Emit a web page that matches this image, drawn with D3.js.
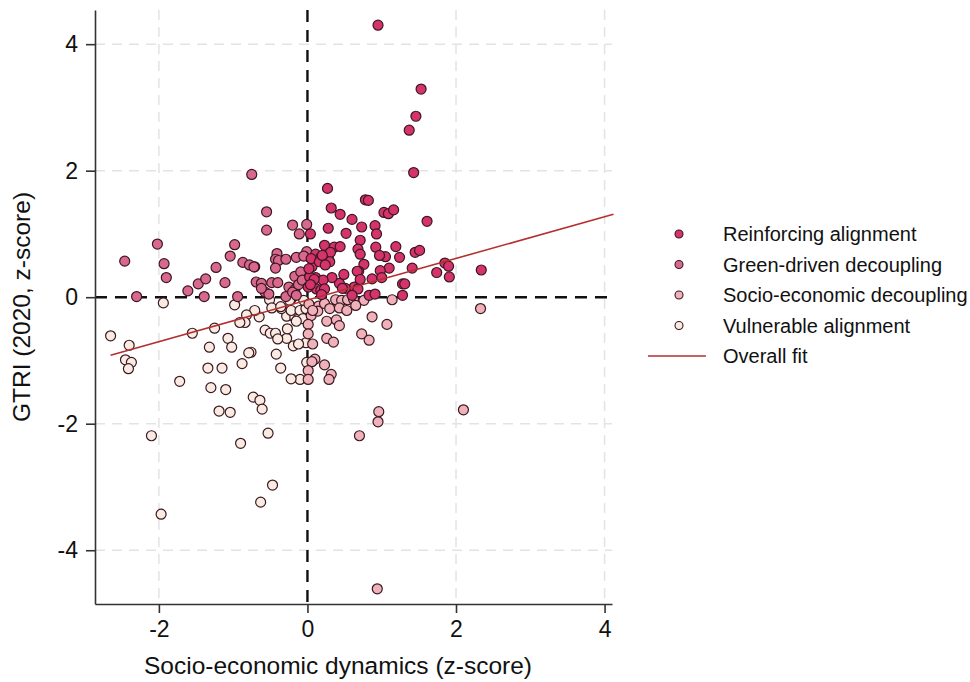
<!DOCTYPE html>
<html>
<head>
<meta charset="utf-8">
<script src="https://cdn.jsdelivr.net/npm/d3@7"></script>
<style>
  body { margin: 0; background: #fff; }
  svg { font-family: "Liberation Sans", Arial, sans-serif; }
</style>
</head>
<body>
<div id="chart"></div>
<script>
// quadrant groups, [x, y] in z-scores
var reinforcing = [[0.95,4.30],[1.53,3.29],[1.46,2.86],[1.37,2.64],[1.43,1.97],[0.27,1.72],[0.78,1.54],[0.82,1.53],
  [0.32,1.41],[0.44,1.31],[0.60,1.23],[1.03,1.34],[1.09,1.32],[1.16,1.38],[1.61,1.20],[0.73,1.11],[0.91,1.13],
  [0.28,1.09],[0.52,1.01],[0.93,1.00],[0.71,0.90],[0.04,1.00],[0.23,0.82],[0.36,0.79],[0.44,0.80],[0.68,0.76],
  [0.71,0.68],[0.92,0.79],[1.19,0.80],[1.45,0.71],[1.51,0.74],[1.05,0.64],[1.24,0.63],[0.11,0.68],[0.18,0.63],
  [0.28,0.62],[0.31,0.71],[0.06,0.48],[0.22,0.60],[0.30,0.56],[0.76,0.52],[0.69,0.41],[1.10,0.46],[0.98,0.42],
  [1.41,0.46],[1.74,0.39],[1.85,0.54],[1.90,0.49],[1.91,0.32],[2.34,0.43],[1.28,0.21],[1.31,0.21],[1.28,0.03],
  [0.87,0.29],[1.00,0.31],[0.83,0.03],[0.91,0.05],[0.63,0.16],[0.68,0.13],[0.43,0.22],[0.51,0.14],[0.33,0.31],
  [0.11,0.31],[0.21,0.27],[0.12,0.13],[0.18,0.11],[0.03,0.32],[0.05,0.61],[0.16,0.56],[0.20,0.66],[0.24,0.51],
  [0.09,0.28],[0.49,0.36],[0.67,0.41],[0.71,0.28],[0.97,0.66],[0.01,0.16],[0.23,0.13],[0.19,0.04],[0.47,0.14],
  [0.60,0.03],[0.02,0.45],[0.04,0.20]];

var greenDriven = [[-0.75,1.94],[-0.55,1.35],[-0.20,1.14],[-0.01,1.15],[-0.55,1.06],[-0.11,1.00],[-0.01,0.72],
  [-0.41,0.69],[-0.43,0.60],[-0.39,0.58],[-0.29,0.60],[-0.15,0.63],[-0.05,0.65],[-0.43,0.46],[-0.71,0.48],
  [-0.17,0.33],[-0.09,0.40],[-0.25,0.16],[-0.17,0.12],[-0.29,0.01],[-0.69,0.24],[-0.62,0.22],[-0.48,0.23],
  [-0.40,0.23],[-0.57,0.08],[-0.52,0.05],[-2.02,0.84],[-2.46,0.57],[-1.93,0.53],[-1.90,0.31],[-2.30,0.01],
  [-1.61,0.10],[-1.47,0.21],[-1.37,0.29],[-1.23,0.47],[-1.39,0.01],[-1.11,0.23],[-1.04,0.65],[-0.98,0.83],
  [-0.87,0.55],[-0.78,0.51],[-0.72,0.48],[-0.94,0.01],[-0.62,0.14],[-0.20,0.08],[-0.15,0.03],[-0.12,0.20],
  [-0.07,0.27]];

var socioDecoupling = [[2.33,-0.18],[1.14,-0.04],[1.07,-0.43],[0.87,-0.31],[0.73,-0.58],[0.83,-0.68],[0.38,-0.04],
  [0.46,-0.05],[0.54,-0.04],[0.62,-0.03],[0.76,-0.05],[0.15,-0.14],[0.23,-0.10],[0.30,-0.18],[0.43,-0.17],
  [0.53,-0.21],[0.65,-0.13],[0.05,-0.29],[0.01,-0.43],[0.26,-0.38],[0.39,-0.36],[0.43,-0.45],[0.26,-0.65],
  [0.35,-0.71],[0.07,-0.74],[0.10,-0.98],[0.06,-1.02],[0.23,-1.07],[0.01,-1.16],[0.32,-1.22],[0.29,-1.30],
  [0.01,-1.30],[0.96,-1.81],[0.95,-1.97],[0.70,-2.19],[2.10,-1.78],[0.94,-4.61],[0.02,-0.11],[0.14,-0.22],
  [0.07,-0.21],[0.01,-0.58]];

var vulnerable = [[-0.51,-0.04],[-0.22,-0.03],[-0.02,-0.72],[-0.01,-1.03],[-0.10,-1.30],[-0.22,-1.29],[-0.36,-1.12],
  [-0.19,-0.77],[-0.12,-0.74],[-0.28,-0.65],[-0.57,-0.52],[-0.50,-0.57],[-0.43,-0.57],[-0.40,-0.66],[-0.42,-0.90],
  [-0.27,-0.50],[-0.28,-0.30],[-0.17,-0.32],[-0.13,-0.35],[-0.65,-0.31],[-0.71,-0.21],[-0.35,-0.18],[-0.22,-0.21],
  [-0.10,-0.21],[-0.02,-0.18],[-0.76,-0.87],[-0.73,-1.58],[-0.64,-1.63],[-1.94,-0.09],[-2.65,-0.61],[-2.40,-0.76],
  [-2.45,-0.99],[-2.37,-1.03],[-2.41,-1.13],[-1.55,-0.57],[-1.25,-0.49],[-0.98,-0.12],[-0.82,-0.28],[-0.84,-0.40],
  [-0.91,-0.40],[-1.07,-0.65],[-1.02,-0.79],[-1.32,-0.79],[-0.79,-0.88],[-0.88,-1.05],[-1.34,-1.12],[-1.15,-1.12],
  [-1.72,-1.33],[-1.30,-1.43],[-1.10,-1.46],[-0.61,-1.77],[-1.19,-1.80],[-1.04,-1.82],[-2.10,-2.19],[-0.90,-2.31],
  [-0.53,-2.15],[-0.47,-2.97],[-0.63,-3.24],[-1.97,-3.43],[-0.48,-0.17],[-0.36,-0.15],[-0.24,-0.05],[-0.06,-0.34],
  [-0.15,-0.38],[-0.05,-0.05]];

var groupNames = ["Reinforcing alignment", "Green-driven decoupling", "Socio-economic decoupling", "Vulnerable alignment"];
var groupColors = ["#d5336b", "#d9688f", "#efb1ba", "#f9ebe2"];

// overall fit: intercept, slope, x range
var fitCoef = [-0.045, 0.329];
var fitRange = [-2.65, 4.12];

var xTicks = [-2, 0, 2, 4];
var yTicks = [-4, -2, 0, 2, 4];

var width = 970, height = 682;
var margin = {top: 10, right: 358, bottom: 78, left: 95};

var svg = d3.select("#chart").append("svg")
    .attr("width", width)
    .attr("height", height);

var x = d3.scaleLinear()
    .domain([-2.86, 4.1])
    .range([margin.left, width - margin.right]);
var y = d3.scaleLinear()
    .domain([-4.85, 4.54])
    .range([height - margin.bottom, margin.top]);

// light dashed grid
svg.append("g").selectAll("line")
    .data(xTicks.filter(function(d) { return d !== 0; }))
    .enter().append("line")
    .attr("x1", function(d) { return x(d); })
    .attr("x2", function(d) { return x(d); })
    .attr("y1", y.range()[1])
    .attr("y2", y.range()[0])
    .attr("stroke", "#e3e3e3")
    .attr("stroke-width", 1.5)
    .attr("stroke-dasharray", "10,7");
svg.append("g").selectAll("line")
    .data(yTicks.filter(function(d) { return d !== 0; }))
    .enter().append("line")
    .attr("x1", x.range()[0])
    .attr("x2", x.range()[1])
    .attr("y1", function(d) { return y(d); })
    .attr("y2", function(d) { return y(d); })
    .attr("stroke", "#e3e3e3")
    .attr("stroke-width", 1.5)
    .attr("stroke-dasharray", "10,7");

// zero reference lines
svg.append("line")
    .attr("x1", x(0)).attr("x2", x(0))
    .attr("y1", y.range()[1]).attr("y2", y.range()[0])
    .attr("stroke", "#111").attr("stroke-width", 2.4)
    .attr("stroke-dasharray", "12,8");
svg.append("line")
    .attr("x1", x.range()[0]).attr("x2", x.range()[1])
    .attr("y1", y(0)).attr("y2", y(0))
    .attr("stroke", "#111").attr("stroke-width", 2.4)
    .attr("stroke-dasharray", "12,8");

// axes
var fmt = function(d) { return String(d); };
var xAxis = svg.append("g")
    .attr("transform", "translate(0," + y.range()[0] + ")")
    .call(d3.axisBottom(x).tickValues(xTicks).tickFormat(fmt).tickSize(9).tickSizeOuter(0).tickPadding(8));
var yAxis = svg.append("g")
    .attr("transform", "translate(" + x.range()[0] + ",0)")
    .call(d3.axisLeft(y).tickValues(yTicks).tickFormat(fmt).tickSize(9).tickSizeOuter(0).tickPadding(8));
[xAxis, yAxis].forEach(function(a) {
    a.select(".domain").attr("stroke", "#333").attr("stroke-width", 1.6);
    a.selectAll(".tick line").attr("stroke", "#333").attr("stroke-width", 1.6);
    a.selectAll(".tick text")
        .attr("font-size", 23)
        .attr("fill", "#111")
        .style("font-family", "'Liberation Sans', Arial, sans-serif");
});

// points
var groups = [vulnerable, socioDecoupling, greenDriven, reinforcing];
var groupIdx = [3, 2, 1, 0];
groups.forEach(function(pts, k) {
    svg.append("g").selectAll("circle")
        .data(pts)
        .enter().append("circle")
        .attr("cx", function(d) { return x(d[0]); })
        .attr("cy", function(d) { return y(d[1]); })
        .attr("r", 5)
        .attr("fill", groupColors[groupIdx[k]])
        .attr("stroke", "#3b1820")
        .attr("stroke-width", 1.2);
});

// fit line
svg.append("line")
    .attr("x1", x(fitRange[0]))
    .attr("y1", y(fitCoef[0] + fitCoef[1] * fitRange[0]))
    .attr("x2", x(fitRange[1]))
    .attr("y2", y(fitCoef[0] + fitCoef[1] * fitRange[1]))
    .attr("stroke", "#b3302f")
    .attr("stroke-width", 1.6);

// axis titles
svg.append("text")
    .attr("x", 338).attr("y", 674)
    .attr("text-anchor", "middle")
    .attr("font-size", 24.5)
    .attr("fill", "#111")
    .text("Socio-economic dynamics (z-score)");
svg.append("text")
    .attr("transform", "translate(30," + ((y.range()[0] + y.range()[1]) / 2) + ") rotate(-90)")
    .attr("text-anchor", "middle")
    .attr("font-size", 24.5)
    .attr("fill", "#111")
    .text("GTRI (2020, z-score)");

// legend
var legend = svg.append("g").attr("transform", "translate(648,234)");
groupNames.forEach(function(name, i) {
    var row = legend.append("g").attr("transform", "translate(0," + (i * 30.5) + ")");
    row.append("circle")
        .attr("cx", 31).attr("cy", 0).attr("r", 4)
        .attr("fill", groupColors[i])
        .attr("stroke", "#3b1820")
        .attr("stroke-width", 1.1);
    row.append("text")
        .attr("x", 75).attr("y", 7)
        .attr("font-size", 20)
        .attr("fill", "#111")
        .text(name);
});
var fitRow = legend.append("g").attr("transform", "translate(0," + (4 * 30.5) + ")");
fitRow.append("line")
    .attr("x1", 0).attr("x2", 58)
    .attr("stroke", "#b3302f").attr("stroke-width", 1.6);
fitRow.append("text")
    .attr("x", 75).attr("y", 7)
    .attr("font-size", 20)
    .attr("fill", "#111")
    .text("Overall fit");
</script>
</body>
</html>
